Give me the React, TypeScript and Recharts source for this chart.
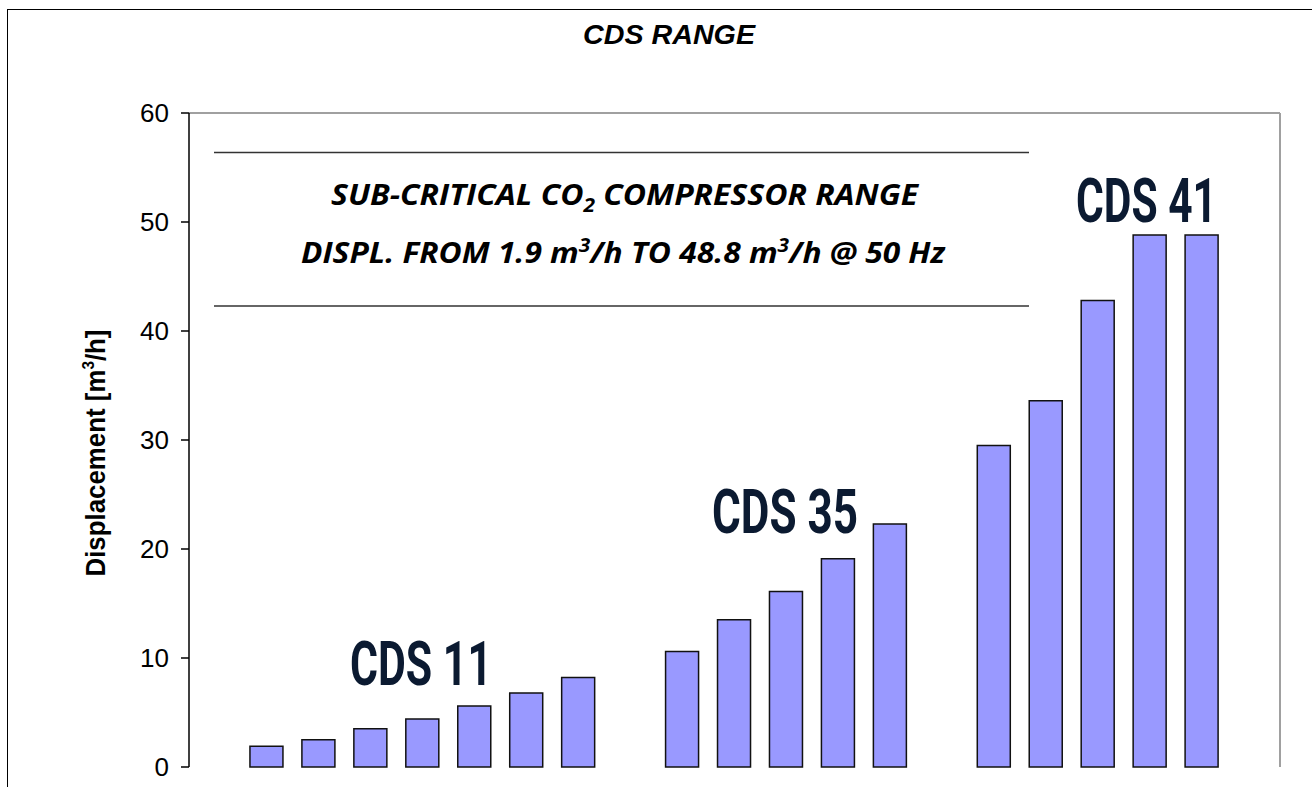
import React from 'react';
import { BarChart, Bar, XAxis, YAxis, ReferenceLine } from 'recharts';

const categories = ['g0', 'C11-1', 'C11-2', 'C11-3', 'C11-4', 'C11-5', 'C11-6', 'C11-7', 'g1', 'C35-1', 'C35-2', 'C35-3', 'C35-4', 'C35-5', 'g2', 'C41-1', 'C41-2', 'C41-3', 'C41-4', 'C41-5', 'g3'];
const displacement: (number | null)[] = [null, 1.9, 2.5, 3.5, 4.4, 5.6, 6.8, 8.2, null, 10.6, 13.5, 16.1, 19.1, 22.3, null, 29.5, 33.6, 42.8, 48.8, 48.8, null];
const yTicks = [0, 10, 20, 30, 40, 50, 60];

const data = categories.map((c, i) => ({ id: c, value: displacement[i] }));

const labelColor = '#0b1a31';

export default function App() {
  return (
    <div style={{ position: 'fixed', left: 0, top: 0, width: 1312, height: 787, overflow: 'hidden', background: '#fff' }}>
      <div style={{ position: 'absolute', left: 7, top: 9, width: 1400, height: 900, border: '1.5px solid #000' }} />
      <div style={{ position: 'absolute', left: 0, top: 0 }}>
        <BarChart width={1312} height={787} data={data} margin={{ top: 113, right: 31, bottom: 20, left: 109 }}>
          <XAxis dataKey="id" tick={false} tickLine={false} height={0} axisLine={{ stroke: '#222', strokeWidth: 2 }} />
          <YAxis
            domain={[0, 60]}
            ticks={yTicks}
            interval={0}
            width={80}
            tickSize={8}
            tickMargin={12}
            axisLine={{ stroke: '#000', strokeWidth: 1.5 }}
            tickLine={{ stroke: '#000', strokeWidth: 1.5 }}
            tick={{ fill: '#000', fontSize: 26, fontFamily: 'Liberation Sans, Arial, sans-serif' }}
          />
          <YAxis yAxisId="r" orientation="right" width={1} tick={false} tickLine={false} axisLine={{ stroke: '#a0a0a0', strokeWidth: 2 }} domain={[0, 60]} />
          <ReferenceLine y={60} stroke="#a0a0a0" strokeWidth={2} />
          <Bar dataKey="value" fill="#9999ff" stroke="#111" strokeWidth={1.5} barSize={33} isAnimationActive={false} />
        </BarChart>
      </div>
      <svg width={1312} height={787} style={{ position: 'absolute', left: 0, top: 0, pointerEvents: 'none' }}>
        <text x={669} y={44} textAnchor="middle" fontFamily="Liberation Sans, Arial, sans-serif" fontWeight={700} fontStyle="italic" fontSize={27} textLength={172} lengthAdjust="spacingAndGlyphs" fill="#000">CDS RANGE</text>
        <text transform="translate(105,453) rotate(-90)" textAnchor="middle" fontFamily="Liberation Sans, Arial, sans-serif" fontWeight={700} fontSize={27} textLength={247} lengthAdjust="spacingAndGlyphs" fill="#000">
          Displacement [m<tspan fontSize={16} dy={-11}>3</tspan><tspan dy={11}>/h]</tspan>
        </text>
        <line x1={214} x2={1029} y1={152.5} y2={152.5} stroke="#333" strokeWidth={1.6} />
        <line x1={214} x2={1029} y1={306} y2={306} stroke="#333" strokeWidth={1.6} />
        <text x={331} y={205} fontFamily="Open Sans, sans-serif" fontWeight={700} fontStyle="italic" fontSize={29} textLength={587} lengthAdjust="spacingAndGlyphs" fill="#000">
          SUB-CRITICAL CO<tspan fontSize={19} dy={7}>2</tspan><tspan dy={-7}> COMPRESSOR RANGE</tspan>
        </text>
        <text x={301} y={263} fontFamily="Open Sans, sans-serif" fontWeight={700} fontStyle="italic" fontSize={29} textLength={644} lengthAdjust="spacingAndGlyphs" fill="#000">
          DISPL. FROM 1.9 m<tspan fontSize={19} dy={-11}>3</tspan><tspan dy={11}>/h TO 48.8 m</tspan><tspan fontSize={19} dy={-11}>3</tspan><tspan dy={11}>/h @ 50 Hz</tspan>
        </text>
        <text x={350} y={685} fontFamily="Roboto, sans-serif" fontWeight={700} fontSize={62} textLength={142} lengthAdjust="spacingAndGlyphs" fill={labelColor}>CDS 11</text>
        <text x={712} y={533} fontFamily="Roboto, sans-serif" fontWeight={700} fontSize={62} textLength={146} lengthAdjust="spacingAndGlyphs" fill={labelColor}>CDS 35</text>
        <text x={1076} y={222} fontFamily="Roboto, sans-serif" fontWeight={700} fontSize={62} textLength={141} lengthAdjust="spacingAndGlyphs" fill={labelColor}>CDS 41</text>
      </svg>
    </div>
  );
}
